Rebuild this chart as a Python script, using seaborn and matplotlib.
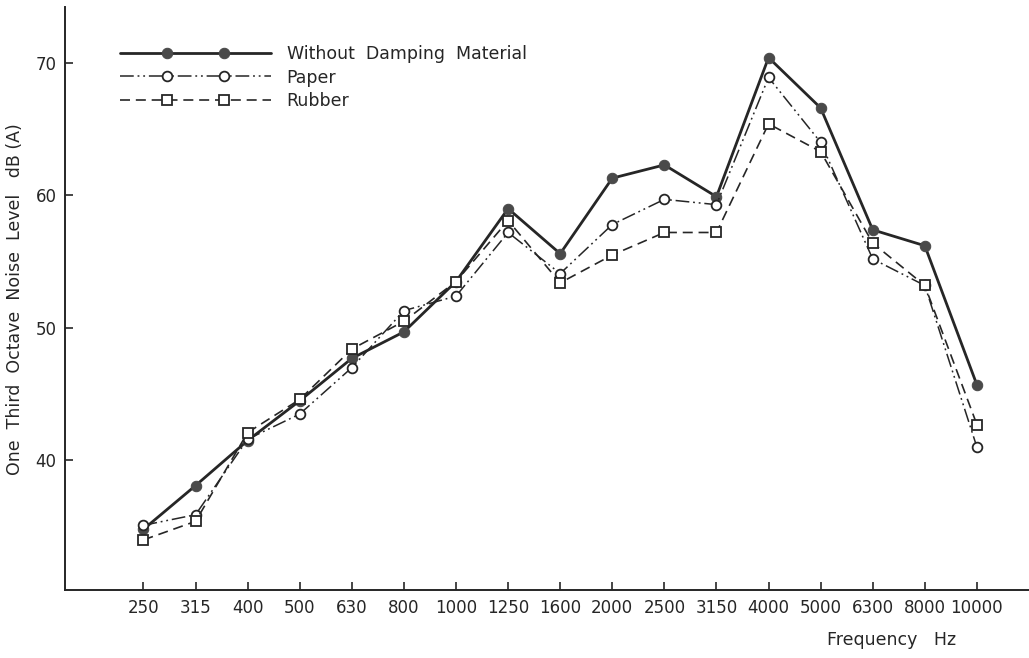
import numpy as np
import pandas as pd
import seaborn as sns
import matplotlib
matplotlib.use("Agg")
import matplotlib.pyplot as plt
from matplotlib.lines import Line2D
from matplotlib.legend_handler import HandlerLine2D

# one-third octave band centre frequencies
freqs = ["250", "315", "400", "500", "630", "800", "1000", "1250", "1600",
         "2000", "2500", "3150", "4000", "5000", "6300", "8000", "10000"]

# levels, dB(A)
without_damping = [34.8, 38.1, 41.5, 44.5, 47.7, 49.7, 53.5, 59.0, 55.6,
                   61.3, 62.3, 59.9, 70.4, 66.6, 57.4, 56.2, 45.7]
paper = [35.1, 35.9, 41.6, 43.5, 47.0, 51.3, 52.4, 57.2, 54.1,
         57.8, 59.7, 59.3, 68.9, 64.0, 55.2, 53.2, 41.0]
rubber = [34.0, 35.4, 42.1, 44.6, 48.4, 50.5, 53.5, 58.1, 53.4,
          55.5, 57.2, 57.2, 65.4, 63.3, 56.4, 53.2, 42.7]

yticks = [40, 50, 60, 70]


# legend line runs the whole handle, markers sit inside it
class InsetMarkers(HandlerLine2D):
    def get_xdata(self, legend, xdescent, ydescent, width, height, fontsize):
        xline = np.linspace(-xdescent, -xdescent + width, 2)
        pad = 2.7 * fontsize
        xmark = np.linspace(-xdescent + pad, -xdescent + width - pad, 2)
        return xline, xmark

    def create_artists(self, legend, orig_handle, xdescent, ydescent,
                       width, height, fontsize, trans):
        xline, xmark = self.get_xdata(legend, xdescent, ydescent,
                                      width, height, fontsize)
        y = (height - ydescent) / 2
        legline = Line2D(xline, [y, y])
        self.update_prop(legline, orig_handle, legend)
        legline.set_marker("None")
        legmark = Line2D(xmark, [y, y])
        self.update_prop(legmark, orig_handle, legend)
        legmark.set_linestyle("None")
        legline.set_transform(trans)
        legmark.set_transform(trans)
        return [legline, legmark]


sns.set_theme(style="ticks")
plt.rcParams['font.family'] = ['DejaVu Sans']

pos = np.arange(len(freqs))
ink = "#262626"

fig = plt.figure(figsize=(10.29, 6.58), dpi=100)
ax = fig.add_axes([0.063, 0.103, 0.937, 0.886])

sns.lineplot(x=pos, y=without_damping, ax=ax, sort=False, color=ink,
             linewidth=2.0, linestyle="-", marker="o", markersize=7.5,
             markerfacecolor="#4a4a4a", markeredgecolor="#4a4a4a",
             label="Without  Damping  Material")
sns.lineplot(x=pos, y=paper, ax=ax, sort=False, color=ink,
             linewidth=1.1, linestyle=(0, (9, 2.5, 1.2, 2.5, 1.2, 2.5)),
             marker="o", markersize=7, markerfacecolor="white",
             markeredgecolor=ink, markeredgewidth=1.3, label="Paper")
sns.lineplot(x=pos, y=rubber, ax=ax, sort=False, color=ink,
             linewidth=1.2, linestyle=(0, (6, 3.5)),
             marker="s", markersize=6.5, markerfacecolor="white",
             markeredgecolor=ink, markeredgewidth=1.3, label="Rubber")

ax.set_xlim(-1.51, 17.0)
ax.set_ylim(30.2, 74.2)
ax.set_xticks(pos)
ax.set_xticklabels(freqs)
ax.set_yticks(yticks)
ax.tick_params(direction="in", length=6, width=1.2, labelsize=12,
               colors=ink, pad=6)
ax.tick_params(axis="x", pad=6)
sns.despine(ax=ax)
for s in ["left", "bottom"]:
    ax.spines[s].set_linewidth(1.4)
    ax.spines[s].set_color(ink)

ax.set_ylabel("One  Third  Octave  Noise  Level   dB (A)", fontsize=12.5,
              color=ink, labelpad=8)
ax.set_xlabel("")
fig.text(0.866, 0.027, "Frequency   Hz", fontsize=12.5, color=ink,
         ha="center", va="center")

leg = ax.legend(loc="upper left", bbox_to_anchor=(0.041, 0.962), frameon=False,
                handler_map={Line2D: InsetMarkers()},
                handlelength=8.7, handletextpad=0.9,
                labelspacing=0.32, fontsize=12.5)
for t in leg.get_texts():
    t.set_color(ink)

fig.savefig("out.png", dpi=100)
